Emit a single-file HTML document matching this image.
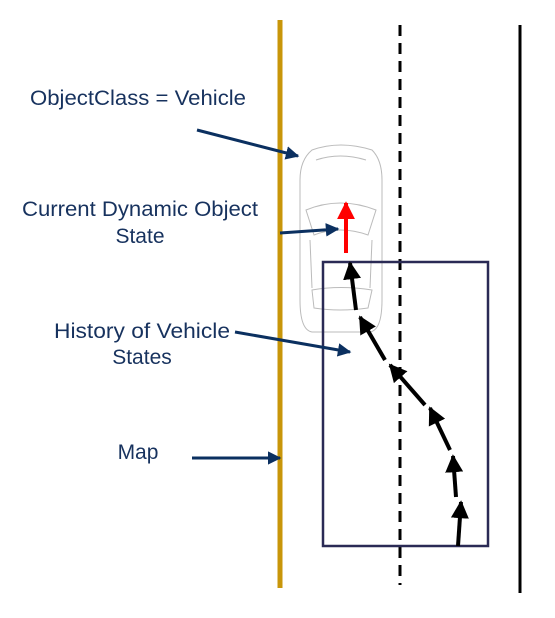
<!DOCTYPE html>
<html><head><meta charset="utf-8"><style>html,body{margin:0;padding:0;background:#fff}svg{display:block}</style></head>
<body>
<svg width="555" height="618" viewBox="0 0 555 618" xmlns="http://www.w3.org/2000/svg">
<defs>
<marker id="bk" viewBox="0 0 10 10" refX="9" refY="5" markerWidth="4.5" markerHeight="4.5" orient="auto"><path d="M0,0 L10,5 L0,10 z" fill="#000"/></marker>
<marker id="bl" viewBox="0 0 10 10" refX="9" refY="5" markerWidth="4.5" markerHeight="4.5" orient="auto"><path d="M0,0 L10,5 L0,10 z" fill="#0b3060"/></marker>
<marker id="rd" viewBox="0 0 10 10" refX="9" refY="5" markerWidth="4.5" markerHeight="4.5" orient="auto"><path d="M0,0 L10,5 L0,10 z" fill="#f00"/></marker>
</defs>
<line x1="280" y1="20" x2="280" y2="588" stroke="#c8960a" stroke-width="5"/>
<line x1="400" y1="25" x2="400" y2="585" stroke="#000" stroke-width="3" stroke-dasharray="11,7"/>
<line x1="520" y1="25" x2="520" y2="593" stroke="#000" stroke-width="3"/>
<g fill="none" stroke="#bbb" stroke-width="1">
<path d="M312,150 Q340,140 372,150 Q382,160 382,180 L382,300 Q382,330 370,332 L312,332 Q300,330 300,300 L300,180 Q300,160 312,150 Z"/>
<path d="M306,210 Q340,196 376,210 L368,235 Q340,225 314,235 Z"/>
<path d="M312,290 Q340,285 372,290 L368,308 Q340,312 314,308 Z"/>
<path d="M316,160 Q340,152 366,160"/>
<line x1="310" y1="240" x2="312" y2="288"/><line x1="372" y1="240" x2="370" y2="288"/>
</g>
<rect x="323" y="262" width="165" height="284" fill="none" stroke="#2a2a55" stroke-width="2.5"/>
<g stroke="#000" stroke-width="4" marker-end="url(#bk)">
<line x1="458" y1="546" x2="461" y2="502"/>
<line x1="456" y1="497" x2="453" y2="456"/>
<line x1="450" y1="450" x2="430" y2="408"/>
<line x1="425" y1="405" x2="390" y2="365"/>
<line x1="385" y1="360" x2="360" y2="317"/>
<line x1="356" y1="310" x2="350" y2="263"/>
</g>
<line x1="346" y1="253" x2="346" y2="203" stroke="#f00" stroke-width="4" marker-end="url(#rd)"/>
<g stroke="#0b3060" stroke-width="3" marker-end="url(#bl)">
<line x1="197" y1="130" x2="298" y2="156"/>
<line x1="280" y1="233" x2="338" y2="229"/>
<line x1="235" y1="332" x2="350" y2="352"/>
<line x1="192" y1="458" x2="280" y2="458"/>
</g>
<g fill="#17325e" font-family="Liberation Sans, sans-serif" font-size="21" text-anchor="middle">
<text x="138" y="105" textLength="216" lengthAdjust="spacingAndGlyphs">ObjectClass = Vehicle</text>
<text x="140" y="216" textLength="236" lengthAdjust="spacingAndGlyphs">Current Dynamic Object</text>
<text x="140" y="243">State</text>
<text x="142" y="338" textLength="176" lengthAdjust="spacingAndGlyphs">History of Vehicle</text>
<text x="142" y="364">States</text>
<text x="138" y="459">Map</text>
</g>
</svg>
</body></html>
